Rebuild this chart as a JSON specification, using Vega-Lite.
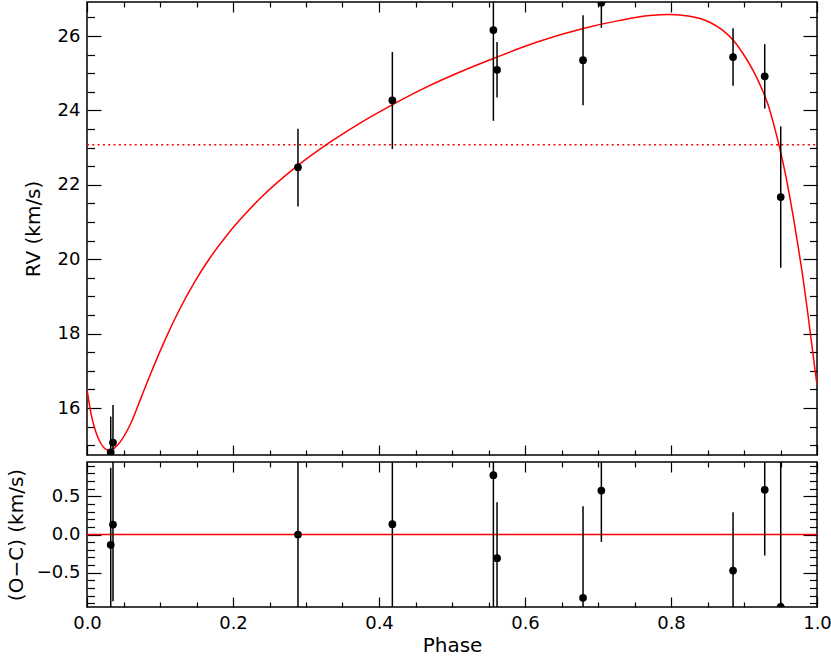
{
  "$schema": "https://vega.github.io/schema/vega-lite/v6.json",
  "padding": {"left": 5, "top": 0, "right": 0, "bottom": 0},
  "background": "white",
  "bounds": "flush",
  "spacing": 7,
  "config": {
    "view": {"stroke": "black", "strokeWidth": 1.5},
    "axis": {
      "domain": false, "grid": false, "tickColor": "black", "tickWidth": 1.2,
      "labelColor": "black", "titleColor": "black",
      "labelFont": "DejaVu Sans", "titleFont": "DejaVu Sans",
      "labelFontSize": 18, "titleFontSize": 20, "titleFontWeight": "normal",
      "labelFlush": false, "labelOverlap": false
    }
  },
  "datasets": {
    "obs": [
      {"phase": 0.0325, "rv": 14.81, "rv_lo": 13.85, "rv_hi": 15.77, "oc": -0.135, "oc_lo": -1.14, "oc_hi": 0.87},
      {"phase": 0.0356, "rv": 15.07, "rv_lo": 14.06, "rv_hi": 16.08, "oc": 0.13, "oc_lo": -0.87, "oc_hi": 1.13},
      {"phase": 0.289, "rv": 22.47, "rv_lo": 21.42, "rv_hi": 23.51, "oc": 0.0, "oc_lo": -1.05, "oc_hi": 1.05},
      {"phase": 0.4183, "rv": 24.27, "rv_lo": 22.96, "rv_hi": 25.57, "oc": 0.135, "oc_lo": -1.165, "oc_hi": 1.435},
      {"phase": 0.5567, "rv": 26.16, "rv_lo": 23.72, "rv_hi": 28.6, "oc": 0.774, "oc_lo": -1.67, "oc_hi": 3.21},
      {"phase": 0.5617, "rv": 25.09, "rv_lo": 24.35, "rv_hi": 25.84, "oc": -0.309, "oc_lo": -1.05, "oc_hi": 0.42},
      {"phase": 0.6795, "rv": 25.35, "rv_lo": 24.14, "rv_hi": 26.56, "oc": -0.826, "oc_lo": -2.04, "oc_hi": 0.37},
      {"phase": 0.7046, "rv": 26.895, "rv_lo": 26.22, "rv_hi": 27.57, "oc": 0.574, "oc_lo": -0.096, "oc_hi": 1.24},
      {"phase": 0.885, "rv": 25.435, "rv_lo": 24.66, "rv_hi": 26.21, "oc": -0.47, "oc_lo": -1.24, "oc_hi": 0.29},
      {"phase": 0.9284, "rv": 24.916, "rv_lo": 24.05, "rv_hi": 25.78, "oc": 0.583, "oc_lo": -0.274, "oc_hi": 1.44},
      {"phase": 0.9503, "rv": 21.672, "rv_lo": 19.77, "rv_hi": 23.57, "oc": -0.943, "oc_lo": -2.84, "oc_hi": 0.96}
    ],
    "model": [
      {"phase": 0.0, "rv": 16.5},
      {"phase": 0.006, "rv": 15.8},
      {"phase": 0.012, "rv": 15.36},
      {"phase": 0.018, "rv": 15.08},
      {"phase": 0.024, "rv": 14.92},
      {"phase": 0.03, "rv": 14.86},
      {"phase": 0.036, "rv": 14.9},
      {"phase": 0.047, "rv": 15.13},
      {"phase": 0.061, "rv": 15.63},
      {"phase": 0.0745, "rv": 16.3},
      {"phase": 0.088, "rv": 16.96},
      {"phase": 0.106, "rv": 17.79},
      {"phase": 0.125, "rv": 18.58},
      {"phase": 0.1475, "rv": 19.39},
      {"phase": 0.17, "rv": 20.08},
      {"phase": 0.193, "rv": 20.68},
      {"phase": 0.216, "rv": 21.2},
      {"phase": 0.237, "rv": 21.63},
      {"phase": 0.289, "rv": 22.52},
      {"phase": 0.3325, "rv": 23.14},
      {"phase": 0.369, "rv": 23.6},
      {"phase": 0.418, "rv": 24.15},
      {"phase": 0.46, "rv": 24.58},
      {"phase": 0.524, "rv": 25.14},
      {"phase": 0.5585, "rv": 25.41},
      {"phase": 0.6156, "rv": 25.83},
      {"phase": 0.6795, "rv": 26.2},
      {"phase": 0.73, "rv": 26.42},
      {"phase": 0.771, "rv": 26.55},
      {"phase": 0.798, "rv": 26.58},
      {"phase": 0.826, "rv": 26.53},
      {"phase": 0.853, "rv": 26.37},
      {"phase": 0.871, "rv": 26.15},
      {"phase": 0.885, "rv": 25.89},
      {"phase": 0.8986, "rv": 25.53},
      {"phase": 0.912, "rv": 25.09},
      {"phase": 0.924, "rv": 24.6},
      {"phase": 0.933, "rv": 24.15},
      {"phase": 0.942, "rv": 23.53},
      {"phase": 0.949, "rv": 22.98},
      {"phase": 0.956, "rv": 22.36},
      {"phase": 0.963, "rv": 21.64},
      {"phase": 0.972, "rv": 20.6},
      {"phase": 0.981, "rv": 19.47},
      {"phase": 0.9877, "rv": 18.5},
      {"phase": 0.9945, "rv": 17.45},
      {"phase": 1.0, "rv": 16.62}
    ]
  },
  "vconcat": [
    {
      "width": 730,
      "height": 453,
      "layer": [
        {
          "data": {"name": "model"},
          "mark": {"type": "line", "color": "#ff0000", "strokeWidth": 1.5, "clip": true, "interpolate": "monotone"},
          "encoding": {
            "x": {"field": "phase", "type": "quantitative",
              "scale": {"domain": [0, 1], "nice": false, "zero": false},
              "axis": {"orient": "bottom", "values": [0, 0.2, 0.4, 0.6, 0.8, 1], "tickSize": -10, "labels": false, "title": null}},
            "y": {"field": "rv", "type": "quantitative",
              "scale": {"domain": [14.737, 26.914], "nice": false, "zero": false},
              "axis": {"orient": "left", "values": [16, 18, 20, 22, 24, 26], "tickSize": -14, "labelPadding": 21, "format": "d", "title": "RV (km/s)", "titlePadding": 14}}
          }
        },
        {
          "data": {"values": [{"gamma": 23.08}]},
          "mark": {"type": "rule", "color": "#ff0000", "strokeWidth": 1.5, "strokeDash": [2, 3.3]},
          "encoding": {
            "x": {"datum": 0, "type": "quantitative",
              "axis": {"orient": "bottom", "values": [0.05, 0.1, 0.15, 0.25, 0.3, 0.35, 0.45, 0.5, 0.55, 0.65, 0.7, 0.75, 0.85, 0.9, 0.95], "tickSize": -5, "labels": false, "title": null}},
            "x2": {"datum": 1},
            "y": {"field": "gamma", "type": "quantitative",
              "axis": {"orient": "left", "values": [15, 15.5, 16.5, 17, 17.5, 18.5, 19, 19.5, 20.5, 21, 21.5, 22.5, 23, 23.5, 24.5, 25, 25.5, 26.5], "tickSize": -7.5, "labels": false, "title": null}}
          }
        },
        {
          "data": {"name": "obs"},
          "mark": {"type": "rule", "color": "black", "strokeWidth": 1.5, "clip": true},
          "encoding": {
            "x": {"field": "phase", "type": "quantitative",
              "axis": {"orient": "top", "values": [0, 0.2, 0.4, 0.6, 0.8, 1], "tickSize": -10, "labels": false, "title": null}},
            "y": {"field": "rv_lo", "type": "quantitative",
              "axis": {"orient": "right", "values": [16, 18, 20, 22, 24, 26], "tickSize": -14, "labels": false, "title": null}},
            "y2": {"field": "rv_hi"}
          }
        },
        {
          "data": {"name": "obs"},
          "mark": {"type": "circle", "color": "black", "opacity": 1, "size": 60, "clip": true},
          "encoding": {
            "x": {"field": "phase", "type": "quantitative",
              "axis": {"orient": "top", "values": [0.05, 0.1, 0.15, 0.25, 0.3, 0.35, 0.45, 0.5, 0.55, 0.65, 0.7, 0.75, 0.85, 0.9, 0.95], "tickSize": -5, "labels": false, "title": null}},
            "y": {"field": "rv", "type": "quantitative",
              "axis": {"orient": "right", "values": [15, 15.5, 16.5, 17, 17.5, 18.5, 19, 19.5, 20.5, 21, 21.5, 22.5, 23, 23.5, 24.5, 25, 25.5, 26.5], "tickSize": -7.5, "labels": false, "title": null}}
          }
        }
      ],
      "resolve": {"axis": {"x": "independent", "y": "independent"}}
    },
    {
      "width": 730,
      "height": 145,
      "layer": [
        {
          "data": {"values": [{"zero": 0}]},
          "mark": {"type": "rule", "color": "#ff0000", "strokeWidth": 1.5},
          "encoding": {
            "x": {"datum": 0, "type": "quantitative",
              "scale": {"domain": [0, 1], "nice": false, "zero": false},
              "axis": {"orient": "bottom", "values": [0, 0.2, 0.4, 0.6, 0.8, 1], "tickSize": -10, "labelPadding": 17, "format": ".1f", "title": "Phase", "titlePadding": 3}},
            "x2": {"datum": 1},
            "y": {"field": "zero", "type": "quantitative",
              "scale": {"domain": [-0.946, 0.946], "nice": false, "zero": false},
              "axis": {"orient": "left", "values": [-0.5, 0, 0.5], "tickSize": -14, "labelPadding": 21, "format": ".1f", "title": "(O−C)  (km/s)", "titlePadding": 10}}
          }
        },
        {
          "data": {"name": "obs"},
          "mark": {"type": "rule", "color": "black", "strokeWidth": 1.5, "clip": true},
          "encoding": {
            "x": {"field": "phase", "type": "quantitative",
              "axis": {"orient": "bottom", "values": [0.05, 0.1, 0.15, 0.25, 0.3, 0.35, 0.45, 0.5, 0.55, 0.65, 0.7, 0.75, 0.85, 0.9, 0.95], "tickSize": -5, "labels": false, "title": null}},
            "y": {"field": "oc_lo", "type": "quantitative",
              "axis": {"orient": "left", "values": [-0.9, -0.8, -0.7, -0.6, -0.4, -0.3, -0.2, -0.1, 0.1, 0.2, 0.3, 0.4, 0.6, 0.7, 0.8, 0.9], "tickSize": -7.5, "labels": false, "title": null}},
            "y2": {"field": "oc_hi"}
          }
        },
        {
          "data": {"name": "obs"},
          "mark": {"type": "circle", "color": "black", "opacity": 1, "size": 60, "clip": true},
          "encoding": {
            "x": {"field": "phase", "type": "quantitative",
              "axis": {"orient": "top", "values": [0, 0.2, 0.4, 0.6, 0.8, 1], "tickSize": -10, "labels": false, "title": null}},
            "y": {"field": "oc", "type": "quantitative",
              "axis": {"orient": "right", "values": [-0.5, 0, 0.5], "tickSize": -14, "labels": false, "title": null}}
          }
        },
        {
          "data": {"name": "obs"},
          "mark": {"type": "circle", "color": "black", "opacity": 0, "size": 60, "clip": true},
          "encoding": {
            "x": {"field": "phase", "type": "quantitative",
              "axis": {"orient": "top", "values": [0.05, 0.1, 0.15, 0.25, 0.3, 0.35, 0.45, 0.5, 0.55, 0.65, 0.7, 0.75, 0.85, 0.9, 0.95], "tickSize": -5, "labels": false, "title": null}},
            "y": {"field": "oc", "type": "quantitative",
              "axis": {"orient": "right", "values": [-0.9, -0.8, -0.7, -0.6, -0.4, -0.3, -0.2, -0.1, 0.1, 0.2, 0.3, 0.4, 0.6, 0.7, 0.8, 0.9], "tickSize": -7.5, "labels": false, "title": null}}
          }
        }
      ],
      "resolve": {"axis": {"x": "independent", "y": "independent"}}
    }
  ]
}
